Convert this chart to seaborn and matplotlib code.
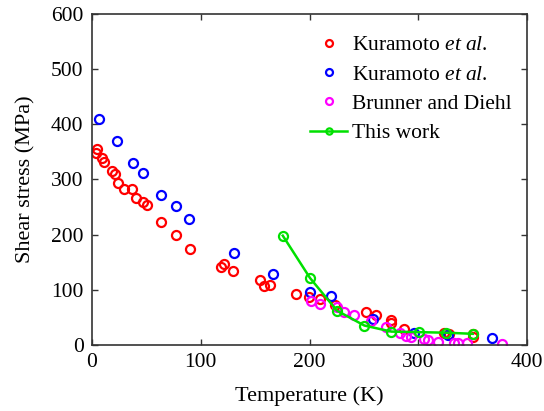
import matplotlib
matplotlib.use("Agg")
import matplotlib.pyplot as plt
import seaborn as sns

# 数据
kura1_T = [3.4, 4.3, 8.9, 11.4, 18, 21, 23.6, 29.5, 36.6, 40.2, 46.7, 51, 63.3, 77.7, 90,
           118.6, 121.7, 130, 154.8, 157.9, 163.4, 187.7, 199.4, 209.5, 223, 252, 261,
           274.7, 274.7, 287, 323.8, 328.4, 350, 350]
kura1_S = [348, 356, 338, 331, 316, 310, 293, 283, 282, 267, 259, 253, 222, 200, 174,
           141, 146, 133, 118, 106, 109, 93, 86, 84, 73, 60, 54,
           45, 39, 28, 21, 20, 19, 14]

kura2_T = [6.8, 22.7, 37.5, 47.3, 63.3, 77.4, 88.8, 130.5, 166.2, 200, 219.4, 258.5,
           296, 327, 367.5]
kura2_S = [410, 370, 330, 312, 271, 251, 229, 166, 129, 96, 89, 46,
           21, 17, 12]

brun_T = [201, 209.5, 225, 232, 240.5, 256.5, 270, 283, 288.5, 293, 305, 308.5, 318,
          333, 336, 344.5, 377]
brun_S = [80, 74, 69, 59, 54, 44, 33, 22, 16, 15, 10, 8, 6,
          4, 4, 4, 1]

this_T = [175.4, 200.5, 225.2, 250.4, 275.2, 300.5, 325.3, 350]
this_S = [198, 121, 62, 35, 24, 23, 22, 20]

plt.rcParams["font.family"] = ["Liberation Serif", "DejaVu Serif"]
plt.rcParams["mathtext.fontset"] = "custom"
plt.rcParams["mathtext.rm"] = "Liberation Serif"
plt.rcParams["mathtext.it"] = "Liberation Serif:italic"

fig = plt.figure(figsize=(5.44, 4.11), dpi=100)
ax = fig.add_axes([0.169, 0.161, 0.80, 0.805])

marker_kw = dict(linestyle="none", marker="o", markersize=6.5,
                 markerfacecolor="none", markeredgewidth=1.6)

sns.lineplot(x=kura1_T, y=kura1_S, ax=ax, sort=False, estimator=None,
             color="#ff0000", markeredgecolor="#ff0000",
             label=r"Kuramoto $\mathit{et\ al.}$", **marker_kw)
sns.lineplot(x=kura2_T, y=kura2_S, ax=ax, sort=False, estimator=None,
             color="#0000ff", markeredgecolor="#0000ff",
             label=r"Kuramoto $\mathit{et\ al.}$", **marker_kw)
sns.lineplot(x=brun_T, y=brun_S, ax=ax, sort=False, estimator=None,
             color="#ff00ff", markeredgecolor="#ff00ff",
             label="Brunner and Diehl", **marker_kw)
sns.lineplot(x=this_T, y=this_S, ax=ax, sort=False, estimator=None,
             color="#00e000", linewidth=1.8, marker="o", markersize=6.5,
             markerfacecolor="none", markeredgecolor="#00e000",
             markeredgewidth=1.6, label="This work")

ax.set_xlim(0, 400)
ax.set_ylim(0, 600)
ax.set_xticks([0, 100, 200, 300, 400])
ax.set_yticks([0, 100, 200, 300, 400, 500, 600])
ax.set_xlabel("Temperature (K)", fontsize=16, labelpad=10)
ax.set_ylabel("Shear stress (MPa)", fontsize=16, labelpad=11)
ax.tick_params(direction="in", top=True, right=True, labelsize=15.5,
               length=4, width=1, pad=6, colors="#333333", labelcolor="black")
for sp in ax.spines.values():
    sp.set_color("#333333")
    sp.set_linewidth(1.2)

leg = ax.legend(loc="upper right", bbox_to_anchor=(0.995, 0.975), frameon=False,
                fontsize=15.5, handlelength=1.7, handletextpad=0.25,
                labelspacing=0.43, borderaxespad=0.2)
for h in leg.legend_handles[:3]:
    h.set_markersize(5)
leg.legend_handles[3].set_markersize(4.5)

fig.savefig("out.png", dpi=100)
